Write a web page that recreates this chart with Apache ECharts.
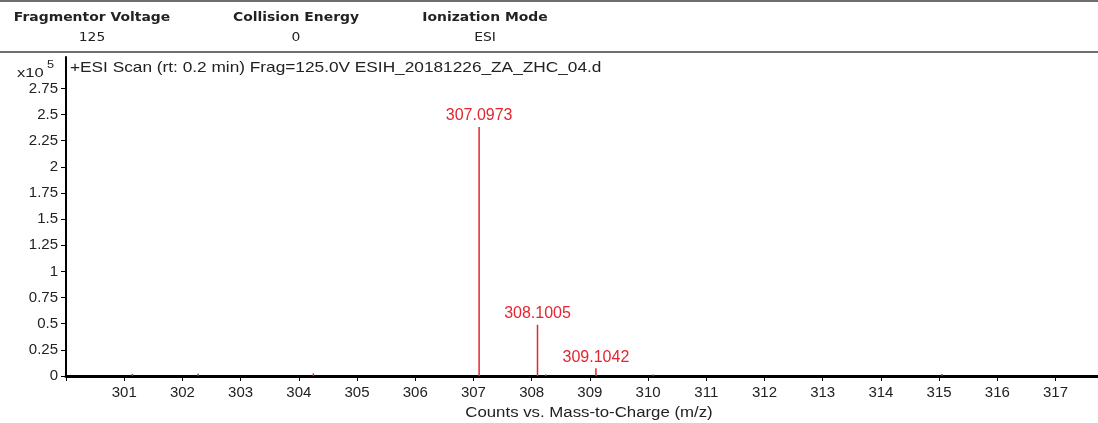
<!DOCTYPE html>
<html>
<head>
<meta charset="utf-8">
<script src="https://cdn.jsdelivr.net/npm/echarts@6/dist/echarts.min.js"></script>
<style>
  html, body { margin: 0; padding: 0; background: #fff; }
  #main { width: 1098px; height: 423px; }
</style>
</head>
<body>
<div id="main"></div>
<script>
// peaks, intensity in units of 10^5 counts
const mz = [301.14, 302.27, 304.25, 307.0973, 308.1005, 308.24, 309.1042, 310.09, 315.05];
const intensity = [0.02, 0.022, 0.025, 2.38, 0.49, 0.015, 0.075, 0.015, 0.02];
const peakLabels = ['', '', '', '307.0973', '308.1005', '', '309.1042', '', ''];
const matched = [0, 0, 1, 1, 1, 1, 1, 0, 0];

const xTicks = [300, 301, 302, 303, 304, 305, 306, 307, 308, 309, 310, 311, 312, 313, 314, 315, 316, 317];
const xTickLabels = [301, 302, 303, 304, 305, 306, 307, 308, 309, 310, 311, 312, 313, 314, 315, 316, 317];
const yTicks = [0, 0.25, 0.5, 0.75, 1, 1.25, 1.5, 1.75, 2, 2.25, 2.5, 2.75];

const headers = [
    {name: 'Fragmentor Voltage', value: '125', x: 92},
    {name: 'Collision Energy', value: '0', x: 296},
    {name: 'Ionization Mode', value: 'ESI', x: 485}
];

const RED = '#e3262f';
const FONT = '"Liberation Sans", Arial, sans-serif';

let chart = echarts.init(document.getElementById('main'), null, {renderer: 'canvas'});

let data = [];
for (let i = 0; i < mz.length; i++) {
    let item = {
        value: [mz[i], intensity[i]],
        itemStyle: {color: matched[i] ? RED : '#555'}
    };
    if (peakLabels[i]) {
        item.label = {
            show: true,
            position: 'top',
            distance: 3,
            color: RED,
            fontSize: 16,
            fontFamily: FONT,
            formatter: peakLabels[i]
        };
    }
    data.push(item);
}

// texts in the reference are a bit stretched sideways
function stretchedText(x, y, text, font, align, sx) {
    return {
        type: 'text', x: x, y: y, scaleX: sx, originX: 0, originY: 0,
        style: {text: text, font: font, fill: '#222', align: align, verticalAlign: 'middle'}
    };
}

let graphics = [
    {type: 'rect', shape: {x: 0, y: 0, width: 1098, height: 2}, style: {fill: '#6e6e6e'}},
    {type: 'rect', shape: {x: 0, y: 51, width: 1098, height: 2}, style: {fill: '#6e6e6e'}},
    stretchedText(70, 68, '+ESI Scan (rt: 0.2 min) Frag=125.0V ESIH_20181226_ZA_ZHC_04.d', '14.5px ' + FONT, 'left', 1.19),
    stretchedText(17, 73, 'x10', '13.5px ' + FONT, 'left', 1.22),
    stretchedText(47, 65, '5', '11px ' + FONT, 'left', 1.15),
    stretchedText(589, 413, 'Counts vs. Mass-to-Charge (m/z)', '14px ' + FONT, 'center', 1.2)
];
for (let h of headers) {
    graphics.push(stretchedText(h.x, 18, h.name, 'bold 13px "DejaVu Sans", sans-serif', 'center', 1.07));
    graphics.push(stretchedText(h.x, 38, h.value, '13px "DejaVu Sans", sans-serif', 'center', 1.07));
}

let option = {
    animation: false,
    backgroundColor: '#fff',
    grid: {left: 66, right: 0, top: 57, bottom: 47},
    xAxis: {
        type: 'value',
        min: 300,
        max: 317.73,
        splitLine: {show: false},
        axisLine: {lineStyle: {color: '#000', width: 3}},
        axisTick: {show: true, length: 5, inside: false, customValues: xTicks, lineStyle: {color: '#000', width: 1}},
        axisLabel: {customValues: xTickLabels, color: '#222', fontSize: 15, fontFamily: FONT, margin: 9}
    },
    yAxis: {
        type: 'value',
        min: 0,
        max: 3.05,
        splitLine: {show: false},
        axisLine: {show: true, lineStyle: {color: '#000', width: 2}},
        axisTick: {show: true, length: 5, customValues: yTicks, lineStyle: {color: '#000', width: 1}},
        axisLabel: {customValues: yTicks, color: '#222', fontSize: 15, fontFamily: FONT, margin: 8}
    },
    series: [{
        type: 'bar',
        barWidth: 1.5,
        data: data
    }],
    graphic: graphics
};
chart.setOption(option);
</script>
</body>
</html>
